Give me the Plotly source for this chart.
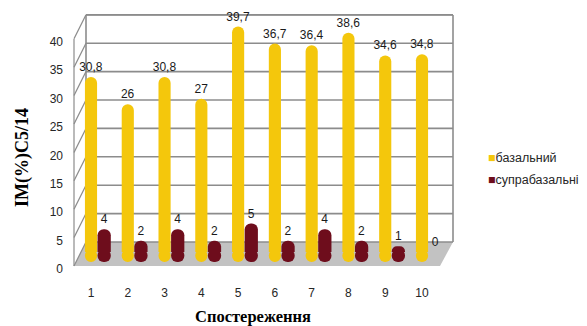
import plotly.graph_objects as go

# Observations and index values for both layers
observations = [1, 2, 3, 4, 5, 6, 7, 8, 9, 10]
basal = [30.8, 26, 30.8, 27, 39.7, 36.7, 36.4, 38.6, 34.6, 34.8]
suprabasal = [4, 2, 4, 2, 5, 2, 4, 2, 1, 0]
series_names = ["базальний", "супрабазальні"]
y_ticks = [0, 5, 10, 15, 20, 25, 30, 35, 40]

COL_BASAL = "#F4C70C"
COL_SUPRA = "#6E0D1C"
GRID = "#8C8C8C"
FLOOR = "#C2C2C2"

# plot-area geometry (pixels) used for the pseudo-3D frame
W, H = 587, 326
L, R, T, B = 68, 458, 10, 270
PW, PH = R - L, B - T
bar_zero = 252      # pixel row of value 0 in the plane of the cylinders
unit = 5.68         # pixels per unit of the value axis
cat_px = 36.78      # pixels between neighbouring observations
foot = 10 / unit    # depth of the rounded cylinder foot below the floor line
overlap = 0.5       # foot reaches slightly up into the body to avoid a seam


def px(x):
    return (x - L) / PW


def py(y):
    return (B - y) / PH


label_font = dict(family="Liberation Sans, Arial", size=12, color="#1a1a1a")

fig = go.Figure()
for vals, name, col, off, wid in [
    (basal, series_names[0], COL_BASAL, -0.165, 0.33),
    (suprabasal, series_names[1], COL_SUPRA, 0.178, 0.36),
]:
    # rounded cylinder foot
    fig.add_trace(go.Bar(
        x=observations,
        y=[-(foot + overlap) if v > 0 else 0 for v in vals], base=overlap,
        marker=dict(color=col, line=dict(width=0), cornerradius=6),
        offset=off, width=wid, hoverinfo="skip", showlegend=False,
    ))
    # cylinder body with value label
    fig.add_trace(go.Bar(
        x=observations, y=vals, name=name,
        marker=dict(color=col, line=dict(width=0), cornerradius=6),
        offset=off, width=wid,
        texttemplate="%{y:.1~f}", textposition="outside", cliponaxis=False,
        constraintext="none", textfont=label_font, showlegend=False,
    ))

shapes = []
# floor
shapes.append(dict(
    type="path", xref="paper", yref="paper", layer="below",
    path=(f"M {px(74)} {py(266)} L {px(440)} {py(266)} "
          f"L {px(453)} {py(242)} L {px(86)} {py(242)} Z"),
    fillcolor=FLOOR, line=dict(width=0),
))
# back-wall horizontal grid lines and side-wall diagonals, tied to the value axis
back_off = bar_zero - 242
front_off = bar_zero - 266
for v in y_ticks:
    shapes.append(dict(
        type="line", xref="paper", yref="y", ysizemode="pixel", yanchor=v,
        x0=px(86), x1=px(453), y0=back_off, y1=back_off, layer="below",
        line=dict(color=GRID, width=1.6),
    ))
    shapes.append(dict(
        type="line", xref="paper", yref="y", ysizemode="pixel", yanchor=v,
        x0=px(74), x1=px(86), y0=front_off, y1=back_off, layer="below",
        line=dict(color=GRID, width=1.2),
    ))
# wall edges
for x0, y0, x1, y1, w in [
    (86, 15, 453, 15, 1.6),
    (86, 15, 86, 242, 1.6),
    (453, 15, 453, 242, 1.6),
    (74, 39, 74, 266, 1.2),
]:
    shapes.append(dict(
        type="line", xref="paper", yref="paper", layer="below",
        x0=px(x0), y0=py(y0), x1=px(x1), y1=py(y1),
        line=dict(color=GRID, width=w),
    ))

legend_font = dict(family="Liberation Sans, Arial", size=12.5, color="#262626")
annotations = [
    dict(xref="paper", yref="paper", x=px(486), y=py(158), xanchor="left",
         yanchor="middle", showarrow=False, font=legend_font,
         text=f"<span style='color:{COL_BASAL}'>■</span>{series_names[0]}"),
    dict(xref="paper", yref="paper", x=px(486), y=py(180), xanchor="left",
         yanchor="middle", showarrow=False, font=legend_font,
         text=f"<span style='color:{COL_SUPRA}'>■</span>{series_names[1]}"),
    dict(xref="paper", yref="paper", x=px(22), y=py(158), textangle=-90,
         xanchor="center", yanchor="middle", showarrow=False,
         text="<b>IM(%)C5/14</b>",
         font=dict(family="Liberation Serif, Times New Roman", size=18, color="#000")),
    dict(xref="paper", yref="paper", x=px(253), y=py(316),
         xanchor="center", yanchor="middle", showarrow=False,
         text="<b>Спостереження</b>",
         font=dict(family="Liberation Serif, Times New Roman", size=16.5, color="#000")),
]

fig.update_layout(
    width=W, height=H,
    margin=dict(l=L, r=W - R, t=T, b=H - B, pad=0, autoexpand=False),
    paper_bgcolor="white", plot_bgcolor="rgba(0,0,0,0)",
    barmode="overlay",
    separators=", ",
    shapes=shapes, annotations=annotations,
    xaxis=dict(
        range=[1 - (91 - L) / cat_px, 10 + (R - 422) / cat_px],
        tickmode="array", tickvals=observations,
        ticktext=[str(o) for o in observations],
        showgrid=False, zeroline=False, showline=False, ticks="",
        automargin=False, ticklabelstandoff=14,
        tickfont=dict(family="Liberation Sans, Arial", size=12, color="#262626"),
    ),
    yaxis=dict(
        range=[(bar_zero - B) / unit, (bar_zero - T) / unit],
        tickmode="array", tickvals=y_ticks,
        showgrid=False, zeroline=False, showline=False, ticks="",
        automargin=False, ticklabelshift=17, ticklabelstandoff=4,
        tickfont=dict(family="Liberation Sans, Arial", size=12, color="#262626"),
    ),
)

fig.write_html("out.html")
